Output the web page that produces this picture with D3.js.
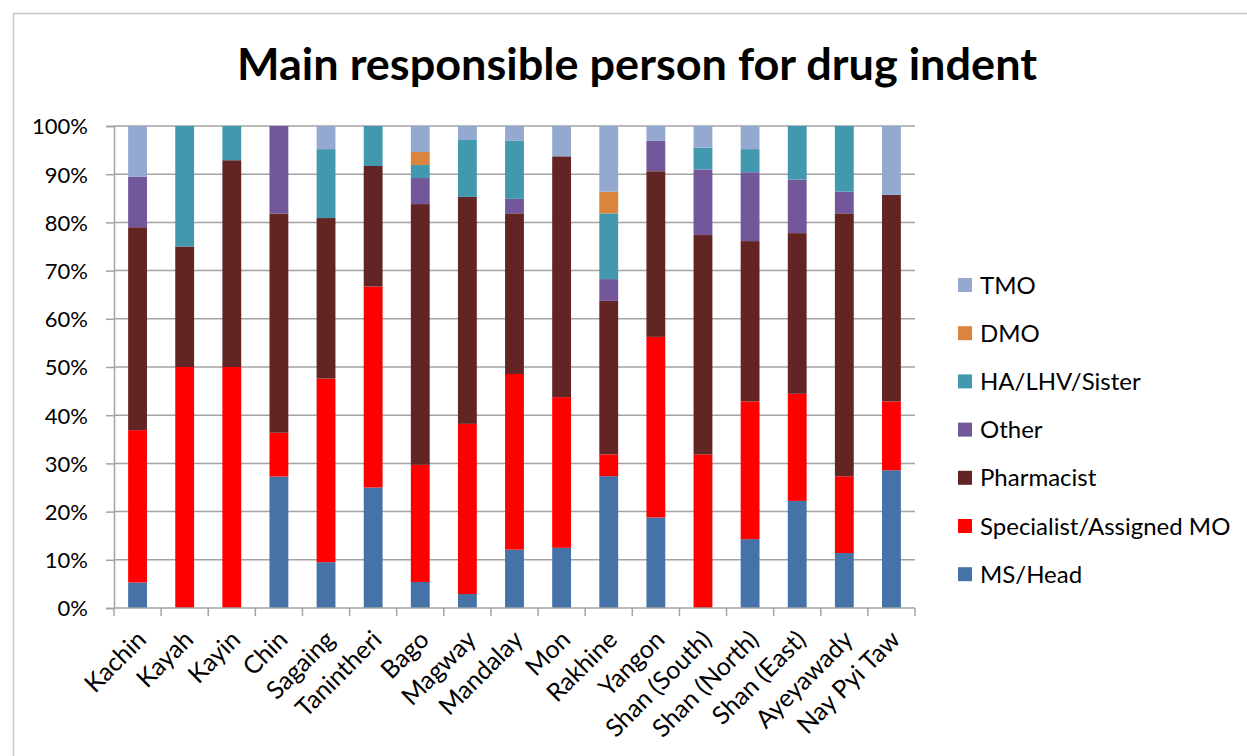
<!DOCTYPE html>
<html>
<head>
<meta charset="utf-8">
<script src="https://cdn.jsdelivr.net/npm/d3@7"></script>
<style>
  html, body { margin: 0; padding: 0; background: #fff; }
  svg { display: block; }
  text { font-family: Lato, "Open Sans", sans-serif; fill: #000; }
</style>
</head>
<body>
<svg id="chart" width="1247" height="756"></svg>
<script>
// Regions (x categories)
const regions = ["Kachin", "Kayah", "Kayin", "Chin", "Sagaing", "Tanintheri", "Bago",
  "Magway", "Mandalay", "Mon", "Rakhine", "Yangon", "Shan (South)", "Shan (North)",
  "Shan (East)", "Ayeyawady", "Nay Pyi Taw"];

// Share of responses (%) per responsible person, stacked bottom to top
const msHead     = [5.3, 0, 0, 27.3, 9.5, 25.0, 5.4, 2.9, 12.1, 12.5, 27.3, 18.8, 0, 14.3, 22.2, 11.4, 28.6];
const specialist = [31.6, 50, 50, 9.1, 38.1, 41.7, 24.3, 35.3, 36.4, 31.3, 4.5, 37.5, 31.8, 28.6, 22.2, 15.9, 14.3];
const pharmacist = [42.1, 25, 42.9, 45.5, 33.3, 25.0, 54.1, 47.1, 33.3, 50.0, 31.8, 34.4, 45.5, 33.3, 33.3, 54.5, 42.9];
const other      = [10.5, 0, 0, 18.2, 0, 0, 5.4, 0, 3.0, 0, 4.5, 6.3, 13.6, 14.3, 11.1, 4.5, 0];
const haLhv      = [0, 25, 7.1, 0, 14.3, 8.3, 2.7, 11.8, 12.1, 0, 13.6, 0, 4.5, 4.8, 11.1, 13.6, 0];
const dmo        = [0, 0, 0, 0, 0, 0, 2.7, 0, 0, 0, 4.5, 0, 0, 0, 0, 0, 0];
const tmo        = [10.5, 0, 0, 0, 4.8, 0, 5.4, 2.9, 3.0, 6.3, 13.6, 3.1, 4.5, 4.8, 0, 0, 14.3];

const seriesNames  = ["MS/Head", "Specialist/Assigned MO", "Pharmacist", "Other", "HA/LHV/Sister", "DMO", "TMO"];
const seriesValues = [msHead, specialist, pharmacist, other, haLhv, dmo, tmo];
const seriesColors = ["#4572A7", "#FF0000", "#632523", "#72589A", "#4198AF", "#DB843D", "#93A9D0"];

const yTicks = [0, 0.1, 0.2, 0.3, 0.4, 0.5, 0.6, 0.7, 0.8, 0.9, 1.0];

const titleText = "Main responsible person for drug indent";

// ---- build rows for d3.stack ----
const rows = regions.map((r, i) => {
  const row = { region: r };
  seriesNames.forEach((s, k) => { row[s] = seriesValues[k][i]; });
  return row;
});

const stacked = d3.stack()
  .keys(seriesNames)
  .offset(d3.stackOffsetExpand)(rows);

const svg = d3.select("#chart");

// outer frame
svg.append("rect")
  .attr("x", 13.5).attr("y", 13.5)
  .attr("width", 1300).attr("height", 800)
  .attr("fill", "none").attr("stroke", "#C8C8C8").attr("stroke-width", 1.5);

// plot area
const plot = { left: 114, right: 915, top: 126, bottom: 608 };

const x = d3.scaleBand()
  .domain(regions)
  .range([plot.left, plot.right])
  .paddingInner(0.6)
  .paddingOuter(0.3);

const y = d3.scaleLinear()
  .domain([0, 1])
  .range([plot.bottom, plot.top]);

const gridColor = "#A3A3A3";

// horizontal gridlines
svg.append("g")
  .selectAll("line")
  .data(yTicks.filter(t => t > 0))
  .join("line")
  .attr("x1", plot.left).attr("x2", plot.right)
  .attr("y1", d => y(d)).attr("y2", d => y(d))
  .attr("stroke", gridColor).attr("stroke-width", 1.5);

// y axis
const yAxis = svg.append("g")
  .attr("transform", `translate(${plot.left},0)`)
  .call(d3.axisLeft(y).tickValues(yTicks).tickFormat(d3.format(".0%")).tickSize(8).tickPadding(18));
yAxis.select(".domain").attr("stroke", gridColor).attr("stroke-width", 1.5);
yAxis.selectAll(".tick line").attr("stroke", gridColor).attr("stroke-width", 1.5);
yAxis.selectAll(".tick text")
  .style("font-family", "Lato, 'Open Sans', sans-serif")
  .style("font-size", "22px")
  .attr("fill", "#000")
  .attr("dy", "0.36em");

// bars
svg.append("g")
  .selectAll("g")
  .data(stacked)
  .join("g")
  .attr("fill", (d, i) => seriesColors[i])
  .selectAll("rect")
  .data(d => d)
  .join("rect")
  .attr("x", d => x(d.data.region))
  .attr("width", x.bandwidth())
  .attr("y", d => y(d[1]))
  .attr("height", d => Math.max(0, y(d[0]) - y(d[1])));

// x axis line and category separators
const xAxisG = svg.append("g");
xAxisG.append("line")
  .attr("x1", plot.left).attr("x2", plot.right)
  .attr("y1", plot.bottom).attr("y2", plot.bottom)
  .attr("stroke", gridColor).attr("stroke-width", 1.5);
const sepPositions = d3.range(regions.length + 1)
  .map(i => plot.left + i * (plot.right - plot.left) / regions.length);
xAxisG.selectAll("line.sep")
  .data(sepPositions)
  .join("line")
  .attr("class", "sep")
  .attr("x1", d => d).attr("x2", d => d)
  .attr("y1", plot.bottom).attr("y2", plot.bottom + 8)
  .attr("stroke", gridColor).attr("stroke-width", 1.5);

// rotated category labels
xAxisG.selectAll("text")
  .data(regions)
  .join("text")
  .attr("transform", d => `translate(${x(d) + x.bandwidth() / 2 + 4},${plot.bottom + 27}) rotate(-45)`)
  .attr("text-anchor", "end")
  .attr("dy", "0.35em")
  .style("font-size", "25px")
  .text(d => d);

// title
const title = svg.append("text")
  .attr("x", 637).attr("y", 80)
  .attr("text-anchor", "middle")
  .style("font-size", "44px")
  .style("font-weight", "bold")
  .text(titleText);
const tw = title.node().getComputedTextLength();
if (Math.abs(tw - 800) > 4) {
  title.attr("textLength", 800).attr("lengthAdjust", "spacingAndGlyphs");
}

// legend (top to bottom: last series first)
const legendOrder = seriesNames.map((s, i) => i).reverse();
const legend = svg.append("g");
const lg = legend.selectAll("g")
  .data(legendOrder)
  .join("g")
  .attr("transform", (d, j) => `translate(958,${285 + j * 48.2})`);
lg.append("rect")
  .attr("x", 0).attr("y", -7)
  .attr("width", 14).attr("height", 14)
  .attr("fill", d => seriesColors[d]);
lg.append("text")
  .attr("x", 22).attr("y", 0)
  .attr("dy", "0.36em")
  .style("font-size", "24px")
  .text(d => seriesNames[d]);
</script>
</body>
</html>
